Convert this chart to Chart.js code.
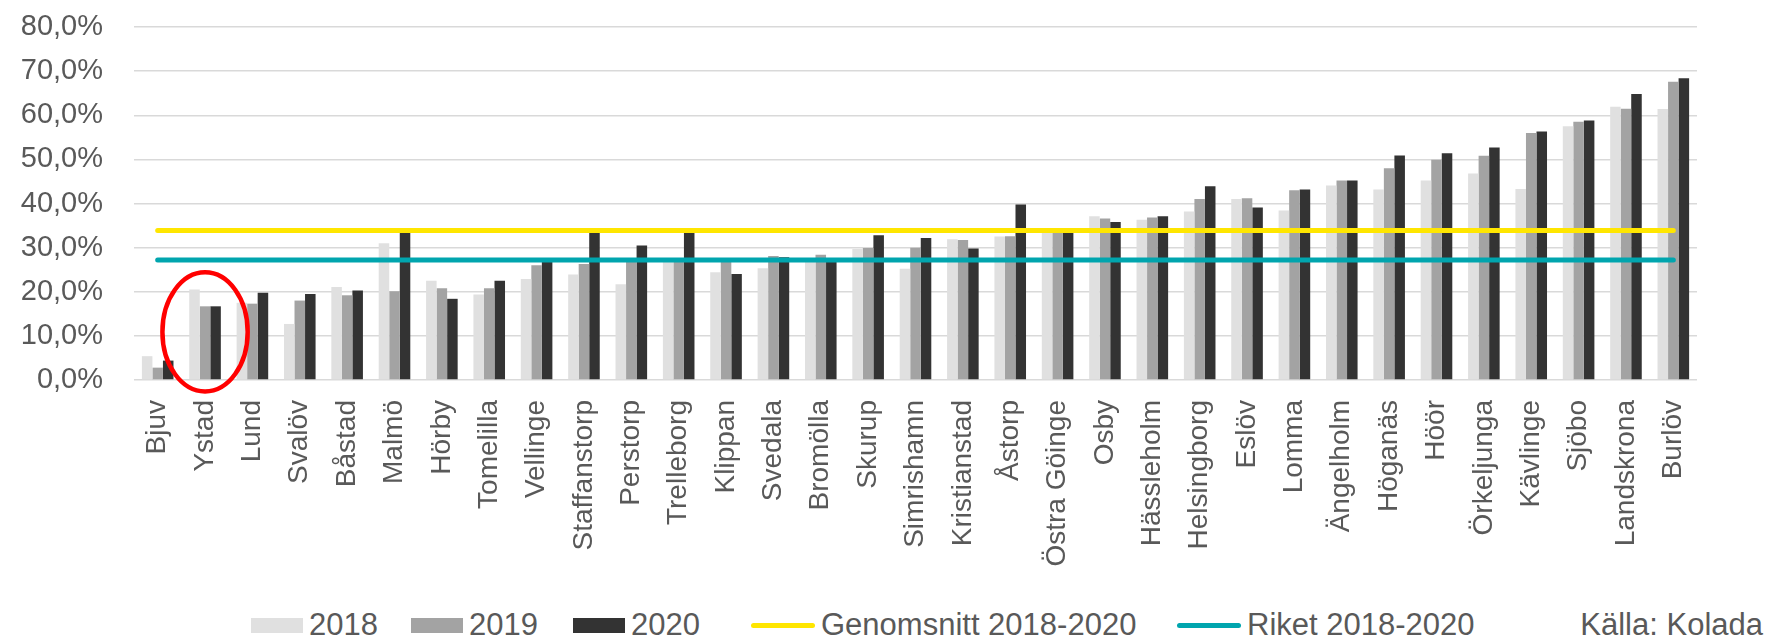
<!DOCTYPE html>
<html>
<head>
<meta charset="utf-8">
<script src="https://cdn.jsdelivr.net/npm/chart.js@4/dist/chart.umd.min.js"></script>
<style>
  html, body { margin: 0; padding: 0; background: #fff; }
  #wrap { position: relative; width: 1775px; height: 642px; font-family: 'Liberation Sans', Arial, sans-serif; color: #595959; }
  #box { position: absolute; left: 0; top: 0; width: 1775px; height: 600px; }
  .leg { position: absolute; top: 609px; height: 32px; display: flex; align-items: center; font-size: 31px; white-space: nowrap; }
  .sw { margin-right: 6px; }
</style>
</head>
<body>
<div id="wrap">
  <div id="box"><canvas id="chartAndel"></canvas></div>
  <div id="legend"></div>
  <div class="leg" style="right:12px">Källa: Kolada</div>
</div>
<script>
const kommuner = ['Bjuv','Ystad','Lund','Svalöv','Båstad','Malmö','Hörby','Tomelilla','Vellinge','Staffanstorp','Perstorp','Trelleborg','Klippan','Svedala','Bromölla','Skurup','Simrishamn','Kristianstad','Åstorp','Östra Göinge','Osby','Hässleholm','Helsingborg','Eslöv','Lomma','Ängelholm','Höganäs','Höör','Örkeljunga','Kävlinge','Sjöbo','Landskrona','Burlöv'];

const v2018 = [5.4, 20.5, 17.5, 12.7, 21.1, 31.0, 22.5, 19.4, 22.9, 23.9, 21.7, 27.3, 24.4, 25.3, 27.2, 29.7, 25.2, 31.9, 32.5, 33.9, 37.1, 36.3, 38.2, 41.0, 38.4, 44.1, 43.2, 45.2, 46.8, 43.3, 57.5, 61.9, 61.4];
const v2019 = [2.8, 16.7, 17.3, 18.0, 19.2, 20.1, 20.8, 20.8, 26.0, 26.3, 27.2, 27.5, 27.4, 28.1, 28.4, 29.9, 30.0, 31.7, 32.6, 33.6, 36.6, 36.8, 41.0, 41.2, 43.0, 45.2, 48.0, 49.9, 50.8, 56.0, 58.5, 61.5, 67.6];
const v2020 = [4.4, 16.7, 19.8, 19.5, 20.3, 33.8, 18.4, 22.5, 27.0, 33.8, 30.5, 33.8, 24.0, 27.8, 27.3, 32.8, 32.2, 29.8, 39.8, 33.7, 35.8, 37.1, 43.9, 39.1, 43.2, 45.2, 50.9, 51.4, 52.7, 56.3, 58.8, 64.8, 68.4];

const genomsnitt = 33.9;   // Genomsnitt 2018-2020
const riket = 27.2;        // Riket 2018-2020

const yTicks = [0, 10, 20, 30, 40, 50, 60, 70, 80];

// röd ring runt Ystad
const markerad = 'Ystad';
const ringMitt = 10.9;
const ringHojd = 13.5;

const ljus  = '#e0e0e0';
const mellan = '#a3a3a3';
const mork  = '#333333';
const gul   = '#ffe600';
const turkos = '#00a5ae';
const text  = '#595959';

const font = { family: "'Liberation Sans', Arial, sans-serif", size: 28 };

const ring = {
  id: 'ring',
  afterDraw(chart) {
    const x = chart.scales.x, y = chart.scales.y;
    const cx = x.getPixelForValue(kommuner.indexOf(markerad));
    const cy = y.getPixelForValue(ringMitt);
    const rx = x.width / kommuner.length * 0.9;
    const ry = Math.abs(y.getPixelForValue(ringMitt + ringHojd) - cy);
    const ctx = chart.ctx;
    ctx.save();
    ctx.strokeStyle = '#ff0000';
    ctx.lineWidth = 4.5;
    ctx.beginPath();
    ctx.ellipse(cx, cy, rx, ry, 0, 0, Math.PI * 2);
    ctx.stroke();
    ctx.restore();
  }
};

const first = kommuner[0];
const last = kommuner[kommuner.length - 1];

const chart = new Chart(document.getElementById('chartAndel'), {
  type: 'bar',
  data: {
    labels: kommuner,
    datasets: [
      { label: '2018', data: v2018, backgroundColor: ljus, order: 1 },
      { label: '2019', data: v2019, backgroundColor: mellan, order: 1 },
      { label: '2020', data: v2020, backgroundColor: mork, order: 1 },
      {
        type: 'line', label: 'Genomsnitt 2018-2020',
        data: [{ x: first, y: genomsnitt }, { x: last, y: genomsnitt }],
        borderColor: gul, borderWidth: 5, borderCapStyle: 'round', pointRadius: 0, order: 0
      },
      {
        type: 'line', label: 'Riket 2018-2020',
        data: [{ x: first, y: riket }, { x: last, y: riket }],
        borderColor: turkos, borderWidth: 5, borderCapStyle: 'round', pointRadius: 0, order: 0
      }
    ]
  },
  options: {
    responsive: true,
    maintainAspectRatio: false,
    animation: false,
    datasets: { bar: { categoryPercentage: 0.667, barPercentage: 1.0 } },
    layout: { padding: { top: 27, right: 78, left: 0, bottom: 0 } },
    plugins: { legend: { display: false }, tooltip: { enabled: false } },
    scales: {
      x: {
        grid: { display: false },
        border: { display: false },
        ticks: { color: text, font: font, autoSkip: false, maxRotation: 90, minRotation: 90, padding: 12 },
        afterFit: (s) => { s.height = 220; }
      },
      y: {
        min: 0, max: 80,
        afterBuildTicks: (s) => { s.ticks = yTicks.map(v => ({ value: v })); },
        grid: { color: '#d9d9d9', lineWidth: 1.5, drawTicks: false },
        border: { display: false },
        ticks: {
          color: text, font: { family: font.family, size: 29 }, padding: 31,
          callback: (v) => v.toFixed(1).replace('.', ',') + '%'
        },
        afterFit: (s) => { s.width = 134; s.paddingTop = 0; s.paddingBottom = 0; }
      }
    }
  },
  plugins: [ring]
});

// förklaring
const legendLeft = [251, 411, 573, 751, 1177];
const legend = document.getElementById('legend');
chart.data.datasets.forEach((ds, i) => {
  const item = document.createElement('div');
  item.className = 'leg';
  item.style.left = legendLeft[i] + 'px';
  const sw = document.createElement('span');
  sw.className = 'sw';
  if (ds.type === 'line') {
    sw.style.cssText = `display:inline-block;width:64px;height:5px;border-radius:3px;background:${ds.borderColor};margin-right:6px`;
  } else {
    sw.style.cssText = `display:inline-block;width:52px;height:15px;background:${ds.backgroundColor};margin-right:6px`;
  }
  item.appendChild(sw);
  item.appendChild(document.createTextNode(ds.label));
  legend.appendChild(item);
});
</script>
</body>
</html>
